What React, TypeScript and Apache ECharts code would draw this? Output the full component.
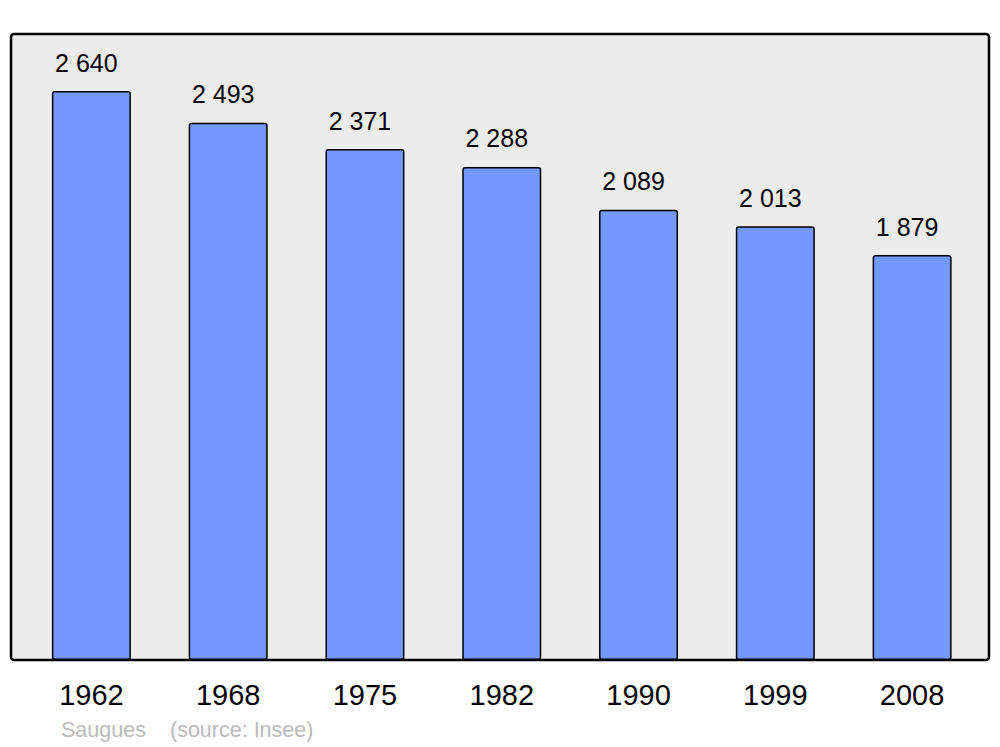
import React, { useEffect, useRef } from "react";
import * as echarts from "echarts";

const years = ["1962", "1968", "1975", "1982", "1990", "1999", "2008"];
const population = [2640, 2493, 2371, 2288, 2089, 2013, 1879];
const place = "Saugues";
const source = "(source: Insee)";

const fmt = (v: number) => {
  const s = String(v);
  return s.length > 3 ? s.slice(0, s.length - 3) + " " + s.slice(-3) : s;
};

export default function App() {
  const ref = useRef<HTMLDivElement>(null);
  useEffect(() => {
    if (!ref.current) return;
    const chart = echarts.init(ref.current, undefined, { renderer: "svg" });
    chart.setOption({
      animation: false,
      backgroundColor: "#ffffff",
      textStyle: { fontFamily: "Liberation Sans, Arial, sans-serif" },
      grid: { left: 23, right: 19.5, top: 34, bottom: 87, containLabel: false },
      xAxis: {
        type: "category",
        data: years,
        axisLine: { show: false },
        axisTick: { show: false },
        axisLabel: { color: "#000", fontSize: 29, margin: 20, fontFamily: "Liberation Sans, Arial, sans-serif" },
      },
      yAxis: {
        type: "value",
        min: 0,
        max: 2905,
        show: false,
        splitLine: { show: false },
      },
      graphic: [
        {
          type: "rect",
          z: 0,
          shape: { x: 11, y: 34, width: 978, height: 626, r: 3 },
          style: { fill: "#ececec", stroke: "#000", lineWidth: 2.5 },
        },
        {
          type: "text",
          x: 61,
          y: 730,
          style: { text: place, fill: "#bbbbbb", fontSize: 21.5, fontFamily: "Liberation Sans, Arial, sans-serif", verticalAlign: "middle" },
        },
        {
          type: "text",
          x: 170,
          y: 730,
          style: { text: source, fill: "#bbbbbb", fontSize: 21.5, fontFamily: "Liberation Sans, Arial, sans-serif", verticalAlign: "middle" },
        },
      ],
      series: [
        {
          type: "bar",
          data: population,
          barWidth: 79,
          z: 2,
          itemStyle: { color: "#7399ff", borderColor: "#000", borderWidth: 1.5, borderRadius: 2 },
          label: {
            show: true,
            position: "top",
            distance: 16,
            offset: [-5, 0],
            color: "#000",
            fontSize: 25,
            fontFamily: "Liberation Sans, Arial, sans-serif",
            formatter: (p: any) => fmt(p.value),
          },
        },
      ],
    });
    return () => chart.dispose();
  }, []);
  return (
    <div
      ref={ref}
      style={{ position: "fixed", left: 0, top: 0, width: 1000, height: 747 }}
    />
  );
}
